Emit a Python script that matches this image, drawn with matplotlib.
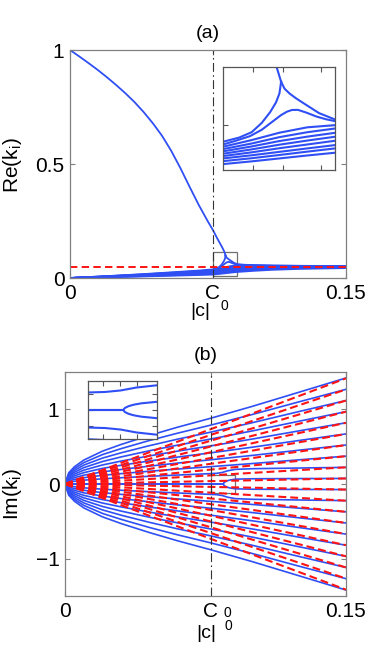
import matplotlib
matplotlib.use('Agg')
import matplotlib.pyplot as plt
from matplotlib.patches import Rectangle

plt.rcParams['font.family'] = ['Liberation Sans', 'DejaVu Sans']
plt.rcParams['mathtext.default'] = 'regular'

BLUE = '#2f4ff5'
RED = '#ff1414'
SPINE = '#808080'

c0 = 0.0777          # position of the C0 marker
x_max = 0.15

# ---------- panel (a): Re(k_i) ----------
# curve coming down from 1 to the collision point
main_x = [0, 0.005, 0.01, 0.015, 0.02, 0.025, 0.03, 0.035, 0.04, 0.045, 0.05, 0.055, 0.06, 0.065,
          0.07, 0.075, 0.0777, 0.08, 0.082, 0.083, 0.084, 0.0845]
main_y = [1.0, 0.972, 0.943, 0.913, 0.881, 0.847, 0.811, 0.772, 0.728, 0.679, 0.624, 0.558, 0.482, 0.400,
          0.320, 0.247, 0.210, 0.174, 0.145, 0.130, 0.113, 0.099]

# fan curve that meets it
join_x = [0, 0.02, 0.04, 0.06, 0.07, 0.0776, 0.0795, 0.081, 0.0822, 0.0832, 0.0839, 0.0843, 0.0845]
join_y = [0, 0.0083, 0.0172, 0.0274, 0.0327, 0.0378, 0.042, 0.0475, 0.057, 0.068, 0.078, 0.087, 0.099]

# branch after the collision
pair_x = [0.0845, 0.0849, 0.0855, 0.0862, 0.087, 0.088, 0.089, 0.0909, 0.095, 0.1, 0.11, 0.125, 0.15]
pair_y = [0.099, 0.092, 0.087, 0.0825, 0.078, 0.0725, 0.067, 0.0605, 0.058, 0.0565, 0.055, 0.0535, 0.052]

# curve with the small hump
hump_x = [0, 0.02, 0.04, 0.06, 0.07, 0.0776, 0.079, 0.0808, 0.0822, 0.0835, 0.0845, 0.0852, 0.0858,
          0.0865, 0.0875, 0.0887, 0.0898, 0.0909, 0.095, 0.1, 0.11, 0.125, 0.15]
hump_y = [0, 0.0077, 0.016, 0.0254, 0.0303, 0.035, 0.0385, 0.0435, 0.050, 0.0585, 0.065, 0.0685, 0.0702,
          0.0703, 0.0675, 0.0635, 0.0608, 0.0588, 0.0565, 0.0555, 0.054, 0.053, 0.0515]

# remaining fan curves
fan_x = [0, 0.02, 0.04, 0.06, 0.07, 0.0776, 0.081, 0.0843, 0.0876, 0.0909, 0.1, 0.11, 0.125, 0.15]
fan_y = [
    [0, 0.0072, 0.0150, 0.0239, 0.0285, 0.0327, 0.0395, 0.0470, 0.0525, 0.0547, 0.0545, 0.053, 0.052, 0.051],
    [0, 0.0067, 0.0139, 0.0221, 0.0264, 0.0303, 0.0360, 0.0425, 0.0475, 0.0513, 0.0525, 0.052, 0.051, 0.050],
    [0, 0.0062, 0.0129, 0.0204, 0.0244, 0.0280, 0.0330, 0.0385, 0.0430, 0.0469, 0.0495, 0.050, 0.0495, 0.049],
    [0, 0.0056, 0.0118, 0.0187, 0.0223, 0.0256, 0.0300, 0.0348, 0.0390, 0.0429, 0.0465, 0.048, 0.048, 0.048],
    [0, 0.0051, 0.0107, 0.0169, 0.0202, 0.0232, 0.0270, 0.0312, 0.0350, 0.0388, 0.0430, 0.0455, 0.0465, 0.047],
    [0, 0.0046, 0.0096, 0.0152, 0.0181, 0.0208, 0.0240, 0.0275, 0.0310, 0.0344, 0.0395, 0.043, 0.045, 0.046],
    [0, 0.0040, 0.0083, 0.0131, 0.0157, 0.0180, 0.0210, 0.0243, 0.0277, 0.0310, 0.0360, 0.040, 0.043, 0.045],
    [0, 0.0033, 0.0069, 0.0110, 0.0131, 0.0150, 0.0178, 0.0208, 0.0238, 0.0266, 0.0315, 0.036, 0.040, 0.0435],
]
re_ref = 0.05   # red dashed level

# ---------- panel (b): Im(k_i), upper half (mirrored) ----------
im_x = [0, 0.002, 0.005, 0.01, 0.02, 0.03, 0.045, 0.06, 0.0777, 0.1, 0.125, 0.15]
im_y = [
    [0, 0.039, 0.061, 0.084, 0.116, 0.139, 0.171, 0.200, 0.232, 0.274, 0.324, 0.373],
    [0, 0.055, 0.085, 0.118, 0.162, 0.195, 0.239, 0.280, 0.324, 0.383, 0.453, 0.522],
    [0, 0.071, 0.109, 0.152, 0.209, 0.251, 0.308, 0.360, 0.417, 0.493, 0.583, 0.671],
    [0, 0.087, 0.133, 0.185, 0.255, 0.307, 0.376, 0.440, 0.510, 0.602, 0.712, 0.820],
    [0, 0.103, 0.157, 0.219, 0.301, 0.363, 0.445, 0.520, 0.602, 0.711, 0.841, 0.969],
    [0, 0.118, 0.181, 0.253, 0.347, 0.418, 0.513, 0.600, 0.694, 0.821, 0.971, 1.118],
    [0, 0.134, 0.206, 0.286, 0.394, 0.474, 0.582, 0.680, 0.788, 0.931, 1.101, 1.268],
    [0, 0.150, 0.230, 0.320, 0.440, 0.530, 0.650, 0.760, 0.880, 1.040, 1.230, 1.420],
]
im1_x = [0, 0.002, 0.005, 0.01, 0.02, 0.03, 0.045, 0.06, 0.0777, 0.081, 0.084, 0.087, 0.091, 0.1, 0.125, 0.15]
im1_y = [0, 0.024, 0.036, 0.051, 0.070, 0.084, 0.103, 0.120, 0.139, 0.143, 0.155, 0.178, 0.196, 0.205, 0.214, 0.223]
im0_x = [0, 0.0845, 0.0848, 0.0855, 0.0865, 0.088, 0.091, 0.1, 0.125, 0.15]
im0_y = [0, 0, 0.016, 0.030, 0.042, 0.053, 0.065, 0.070, 0.073, 0.0745]
# red dashed asymptotes: value reached at |c| = 0.15
red_end = [0.0745, 0.2235, 0.3725, 0.5215, 0.6705, 0.8195, 0.9685, 1.1175, 1.2665, 1.4155]


def px(x, y, w=0, h=0):
    return [x / 382, 1 - (y + h) / 671, w / 382, h / 671]


def style(ax, color=SPINE):
    for s in ax.spines.values():
        s.set_color(color)
        s.set_linewidth(0.9)
    ax.tick_params(direction='in', length=3.5, width=0.8, color=color,
                   top=True, right=True, labelsize=15, pad=4)


def draw_re(ax, lw):
    ax.plot(main_x, main_y, color=BLUE, lw=lw)
    ax.plot(join_x, join_y, color=BLUE, lw=lw)
    ax.plot(pair_x, pair_y, color=BLUE, lw=lw)
    ax.plot(hump_x, hump_y, color=BLUE, lw=lw)
    for yy in fan_y:
        ax.plot(fan_x, yy, color=BLUE, lw=lw)


def draw_im(ax, lw):
    for yy in im_y:
        ax.plot(im_x, yy, color=BLUE, lw=lw)
        ax.plot(im_x, [-v for v in yy], color=BLUE, lw=lw)
    ax.plot(im1_x, im1_y, color=BLUE, lw=lw)
    ax.plot(im1_x, [-v for v in im1_y], color=BLUE, lw=lw)
    ax.plot(im0_x, im0_y, color=BLUE, lw=lw)
    ax.plot(im0_x, [-v for v in im0_y], color=BLUE, lw=lw)


fig = plt.figure(figsize=(3.82, 6.71), dpi=100)

# ---- (a)
ax1 = fig.add_axes(px(70, 50, 276, 228))
draw_re(ax1, 1.3)
ax1.plot([0, x_max], [re_ref, re_ref], color=RED, lw=1.4, dashes=(3.8, 2.2))
ax1.axvline(c0, color='#333333', lw=0.8, linestyle=(0, (8, 3, 1.5, 3)))
ax1.add_patch(Rectangle((0.0776, 0.009), 0.0133, 0.105, fill=False, ec='#707070', lw=0.9))
ax1.set_xlim(0, x_max)
ax1.set_ylim(0, 1)
ax1.set_xticks([0, c0, x_max])
ax1.set_xticklabels(['0', 'C', '0.15'])
ax1.set_yticks([0, 0.5, 1])
ax1.set_yticklabels(['0', '0.5', '1'])
style(ax1)
ax1.set_title('(a)', fontsize=14, pad=9)

ins1 = fig.add_axes(px(223, 67, 112, 103))
draw_re(ins1, 1.5)
ins1.set_xlim(0.0776, 0.0909)
ins1.set_ylim(0.009, 0.114)
ins1.set_xticks([0.0812, 0.0847, 0.0892])
ins1.set_yticks([0.055])
ins1.set_xticklabels([])
ins1.set_yticklabels([])
style(ins1, '#555555')

fig.text(13 / 382, 1 - 165 / 671, 'Re(k$_i$)', rotation=90, fontsize=15, ha='center', va='center')
fig.text(200 / 382, 1 - 311 / 671, '|c|', fontsize=14, ha='center', va='center')
fig.text(224 / 382, 1 - 306 / 671, '0', fontsize=10, ha='center', va='center')

# ---- (b)
ax2 = fig.add_axes(px(65, 372, 281, 224))
draw_im(ax2, 1.2)
for e in red_end:
    ax2.plot([0, x_max], [0, e], color=RED, lw=1.5, dashes=(3.8, 1.9))
    ax2.plot([0, x_max], [0, -e], color=RED, lw=1.5, dashes=(3.8, 1.9))
ax2.axvline(c0, color='#333333', lw=0.8, linestyle=(0, (8, 3, 1.5, 3)))
ax2.add_patch(Rectangle((0.0777, -0.125), 0.0133, 0.25, fill=False, ec='#707070', lw=0.9))
ax2.set_xlim(0, x_max)
ax2.set_ylim(-1.5, 1.5)
ax2.set_xticks([0, c0, x_max])
ax2.set_xticklabels(['0', 'C', '0.15'])
ax2.set_yticks([-1, 0, 1])
ax2.set_yticklabels(['\u22121', '0', '1'])
style(ax2)
ax2.set_title('(b)', fontsize=14, pad=9)

ins2 = fig.add_axes(px(88, 381, 69, 58))
draw_im(ins2, 1.5)
ins2.set_xlim(0.0777, 0.091)
ins2.set_ylim(-0.23, 0.23)
ins2.set_xticks([0.0805, 0.0838, 0.0872])
ins2.set_yticks([-0.13, 0.0, 0.13])
ins2.set_xticklabels([])
ins2.set_yticklabels([])
style(ins2, '#555555')

fig.text(13 / 382, 1 - 494 / 671, 'Im(k$_i$)', rotation=90, fontsize=15, ha='center', va='center')
fig.text(227 / 382, 1 - 613 / 671, '0', fontsize=10, ha='center', va='center')
fig.text(206 / 382, 1 - 634 / 671, '|c|', fontsize=14, ha='center', va='center')
fig.text(228 / 382, 1 - 626 / 671, '0', fontsize=10, ha='center', va='center')

fig.savefig('out.png', dpi=100)
